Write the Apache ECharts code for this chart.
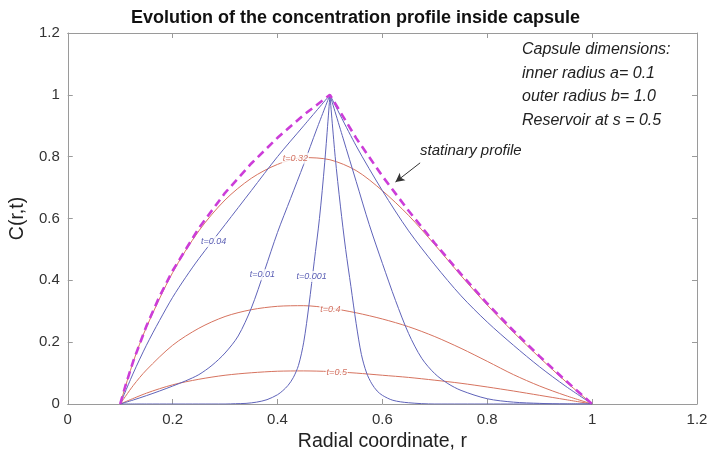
<!DOCTYPE html>
<html>
<head>
<meta charset="utf-8">
<script src="https://cdn.jsdelivr.net/npm/echarts/dist/echarts.min.js"></script>
<style>
  html, body { margin: 0; padding: 0; background: #fff; }
  #chart { width: 711px; height: 461px; }
</style>
</head>
<body>
<div id="chart"></div>
<script>
// Axis ticks
const xTickLabels = ['0', '0.2', '0.4', '0.6', '0.8', '1', '1.2'];
const yTickLabels = ['0', '0.2', '0.4', '0.6', '0.8', '1', '1.2'];

// Concentration profiles C(r,t) as [r, C] pairs.
// Early times (source held at C = 1 at r = 0.5): left and right branches.
const t001Left = [[0.1,0],[0.15,0],[0.2,0],[0.25,0],[0.3,0],[0.32,0.001],[0.34,0.002],[0.36,0.006],[0.38,0.014],[0.4,0.03],[0.41,0.043],[0.42,0.06],[0.43,0.085],[0.44,0.125],[0.45,0.2],[0.46,0.32],[0.47,0.46],[0.48,0.6],[0.49,0.78],[0.5,1]];
const t001Right = [[0.5,1],[0.51,0.8],[0.52,0.64],[0.53,0.5],[0.54,0.38],[0.55,0.26],[0.56,0.16],[0.57,0.1],[0.58,0.065],[0.59,0.042],[0.6,0.028],[0.62,0.012],[0.65,0.004],[0.7,0],[0.75,0],[0.8,0],[0.85,0],[0.9,0],[0.95,0],[1,0]];
const t01Left = [[0.1,0],[0.125,0.013],[0.15,0.027],[0.175,0.042],[0.2,0.058],[0.225,0.075],[0.25,0.095],[0.275,0.125],[0.3,0.165],[0.325,0.22],[0.35,0.31],[0.375,0.43],[0.4,0.555],[0.425,0.665],[0.45,0.775],[0.475,0.89],[0.5,1]];
const t01Right = [[0.5,1],[0.525,0.86],[0.55,0.72],[0.575,0.58],[0.6,0.455],[0.625,0.335],[0.65,0.228],[0.675,0.148],[0.7,0.098],[0.725,0.066],[0.75,0.044],[0.8,0.017],[0.85,0.006],[0.9,0.002],[0.95,0],[1,0]];
const t04Left = [[0.1,0],[0.125,0.1],[0.15,0.19],[0.175,0.27],[0.2,0.345],[0.225,0.41],[0.25,0.47],[0.3,0.58],[0.35,0.69],[0.4,0.8],[0.45,0.9],[0.5,1]];
const t04Right = [[0.5,1],[0.55,0.835],[0.6,0.69],[0.65,0.56],[0.7,0.45],[0.75,0.35],[0.8,0.265],[0.85,0.19],[0.9,0.12],[0.95,0.057],[1,0]];

// Later times (reservoir depleting)
const t32 = [[0.1,0],[0.125,0.137],[0.15,0.248],[0.2,0.425],[0.25,0.56],[0.3,0.66],[0.35,0.73],[0.4,0.775],[0.45,0.797],[0.5,0.79],[0.55,0.755],[0.6,0.69],[0.65,0.61],[0.7,0.515],[0.75,0.415],[0.8,0.32],[0.85,0.232],[0.9,0.15],[0.95,0.072],[1,0]];
const t40 = [[0.1,0],[0.125,0.06],[0.15,0.11],[0.2,0.19],[0.25,0.245],[0.3,0.283],[0.35,0.305],[0.4,0.316],[0.45,0.318],[0.5,0.31],[0.55,0.295],[0.6,0.275],[0.65,0.25],[0.7,0.218],[0.75,0.18],[0.8,0.138],[0.85,0.095],[0.9,0.058],[0.95,0.027],[1,0]];
const t50 = [[0.1,0],[0.15,0.035],[0.2,0.062],[0.25,0.08],[0.3,0.093],[0.35,0.101],[0.4,0.106],[0.45,0.107],[0.5,0.105],[0.55,0.1],[0.6,0.093],[0.65,0.086],[0.7,0.077],[0.75,0.067],[0.8,0.055],[0.85,0.042],[0.9,0.028],[0.95,0.014],[1,0]];

// Stationary profile
const stationary = [[0.1,0],[0.11,0.059],[0.125,0.139],[0.15,0.252],[0.175,0.348],[0.2,0.431],[0.25,0.569],[0.3,0.683],[0.35,0.778],[0.4,0.861],[0.45,0.935],[0.5,1],[0.55,0.86],[0.6,0.737],[0.65,0.625],[0.7,0.52],[0.75,0.42],[0.8,0.325],[0.85,0.237],[0.9,0.154],[0.95,0.075],[1,0]];

// Inline curve labels: [r, C, text, group]
const curveLabels = [
  [0.434, 0.795, 't=0.32', 'late'],
  [0.278, 0.525, 't=0.04', 'early'],
  [0.371, 0.418, 't=0.01', 'early'],
  [0.465, 0.412, 't=0.001', 'early'],
  [0.501, 0.305, 't=0.4', 'late'],
  [0.513, 0.103, 't=0.5', 'late']
];

const noteLines = ['Capsule dimensions:', 'inner radius a= 0.1', 'outer radius b= 1.0', 'Reservoir at s = 0.5'];
const stationaryNote = 'statinary profile';
const arrowFrom = [0.672, 0.78];
const arrowTo = [0.625, 0.718];

const FONT = '"Liberation Sans", Arial, Helvetica, sans-serif';
const BLUE = '#5f63b9';
const RED = '#d6735f';
const FRAME = '#9a9a9a';

function curve(data, color) {
  return {
    type: 'line', data: data, symbol: 'none', smooth: 0.3,
    lineStyle: { color: color, width: 1 }, z: 2, silent: true
  };
}

const chart = echarts.init(document.getElementById('chart'), null, { renderer: 'canvas' });

const option = {
  backgroundColor: '#fff',
  animation: false,
  title: {
    text: 'Evolution of the concentration profile inside capsule',
    left: 'center', top: 4,
    textStyle: { fontFamily: FONT, fontSize: 18, fontWeight: 'bold', color: '#111' }
  },
  grid: { left: 67, top: 33, width: 630, height: 371 },
  xAxis: [
    {
      type: 'value', min: 0, max: 1.2, interval: 0.2, position: 'bottom',
      name: 'Radial coordinate, r', nameLocation: 'middle', nameGap: 28,
      nameTextStyle: { fontFamily: FONT, fontSize: 19.5, color: '#222' },
      axisLine: { show: true, onZero: false, lineStyle: { color: FRAME, width: 1 } },
      axisTick: { show: true, inside: true, length: 5, lineStyle: { color: FRAME } },
      axisLabel: { fontFamily: FONT, fontSize: 15, color: '#333', margin: 8,
        formatter: (v, i) => xTickLabels[i] },
      splitLine: { show: false }
    },
    {
      type: 'value', min: 0, max: 1.2, interval: 0.2, position: 'top',
      axisLine: { show: true, onZero: false, lineStyle: { color: FRAME, width: 1 } },
      axisTick: { show: true, inside: true, length: 5, lineStyle: { color: FRAME } },
      axisLabel: { show: false }, splitLine: { show: false }
    }
  ],
  yAxis: [
    {
      type: 'value', min: 0, max: 1.2, interval: 0.2, position: 'left',
      name: 'C(r,t)', nameLocation: 'middle', nameGap: 36,
      nameTextStyle: { fontFamily: FONT, fontSize: 19.5, color: '#222' },
      axisLine: { show: true, onZero: false, lineStyle: { color: FRAME, width: 1 } },
      axisTick: { show: true, inside: true, length: 5, lineStyle: { color: FRAME } },
      axisLabel: { fontFamily: FONT, fontSize: 15, color: '#333', margin: 8,
        formatter: (v, i) => yTickLabels[i] },
      splitLine: { show: false }
    },
    {
      type: 'value', min: 0, max: 1.2, interval: 0.2, position: 'right',
      axisLine: { show: true, onZero: false, lineStyle: { color: FRAME, width: 1 } },
      axisTick: { show: true, inside: true, length: 5, lineStyle: { color: FRAME } },
      axisLabel: { show: false }, splitLine: { show: false }
    }
  ],
  series: [
    curve(t50, RED),
    curve(t40, RED),
    curve(t32, RED),
    curve(t001Left, BLUE),
    curve(t001Right, BLUE),
    curve(t01Left, BLUE),
    curve(t01Right, BLUE),
    curve(t04Left, BLUE),
    curve(t04Right, BLUE),
    {
      type: 'line', data: stationary, symbol: 'none', smooth: false, z: 4, silent: true,
      lineStyle: { color: '#cc3dd8', width: 2.6, type: [8, 5] },
      markLine: {
        silent: true, symbol: ['none', 'arrow'], symbolSize: [7, 9],
        lineStyle: { color: '#333', width: 1, type: 'solid' },
        label: { show: false },
        data: [[{ coord: arrowFrom }, { coord: arrowTo }]]
      }
    },
    {
      type: 'scatter', silent: true, z: 6, symbolSize: 1,
      itemStyle: { color: 'rgba(0,0,0,0)' },
      data: curveLabels.map(d => ({
        value: [d[0], d[1]],
        label: {
          show: true, position: 'inside', formatter: d[2],
          fontFamily: FONT, fontSize: 9, fontStyle: 'italic',
          color: d[3] === 'late' ? '#c8503c' : '#2f35a0',
          backgroundColor: '#fff', padding: [1, 1]
        }
      }))
    }
  ],
  graphic: [
    {
      type: 'text', left: 522, top: 38, z: 10,
      style: {
        text: noteLines.join('\n'), fontFamily: FONT, fontSize: 16, fontStyle: 'italic',
        fill: '#222', lineHeight: 23.5
      }
    },
    {
      type: 'text', left: 420, top: 143, z: 10,
      style: {
        text: stationaryNote, fontFamily: FONT, fontSize: 15, fontStyle: 'italic', fill: '#222'
      }
    }
  ]
};

chart.setOption(option);
</script>
</body>
</html>
